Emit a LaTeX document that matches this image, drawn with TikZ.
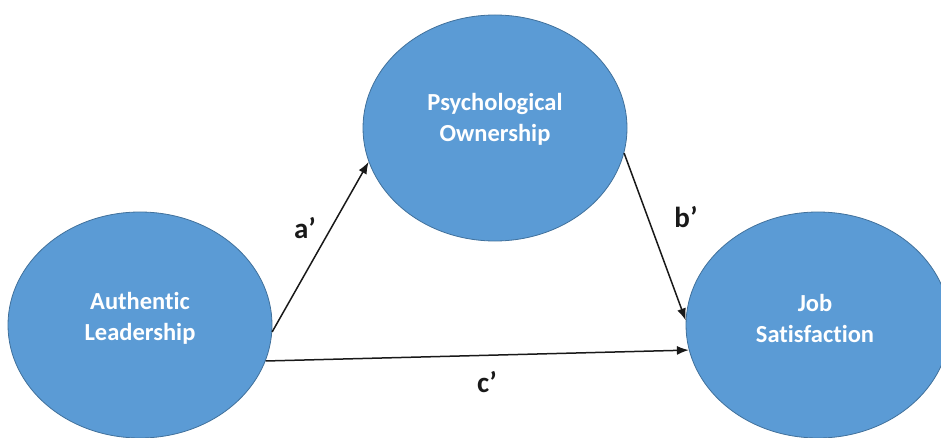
\documentclass[tikz,border=0pt]{standalone}
\usepackage{fontspec}
\setmainfont[Ligatures={NoCommon}]{Carlito}
\usetikzlibrary{shapes.geometric,arrows.meta}
\definecolor{ovfill}{HTML}{5B9BD5}
\definecolor{ovline}{HTML}{41719C}
\begin{document}
\begin{tikzpicture}[x=1pt,y=-1pt,
  oval/.style={ellipse, fill=ovfill, draw=ovline, line width=0.8pt,
    minimum width=264pt, minimum height=226pt, inner sep=0pt},
  ovtext/.style={text=white, font=\fontsize{24.5}{31}\selectfont\bfseries, align=center},
  link/.style={draw=black!90, line width=1.5pt, -{Latex[length=12pt,width=9pt]}},
  lbl/.style={font=\fontsize{29}{33}\selectfont\bfseries, text=black!90}]
\useasboundingbox (0,0) rectangle (941,438);
\node[oval] (al) at (140,325) {};
\node[oval] (po) at (495,128) {};
\node[oval] (js) at (818,325) {};
\node[ovtext] (alt) at (140,318) {Authentic\\Leadership};
\node[ovtext] (pot) at (495,119) {Psychological\\Ownership};
\node[ovtext] (jst) at (815,318) {Job\\Satisfaction};
\draw[link] (al.-3) -- (po.195);
\draw[link] (po.-11) -- (js.178);
\draw[link] (al.-16) -- (js.191.5);
\node[lbl] (la) at (305,228) {a’};
\node[lbl] (lb) at (686,217) {b’};
\node[lbl] (lc) at (487,382) {c’};
\end{tikzpicture}
\end{document}
